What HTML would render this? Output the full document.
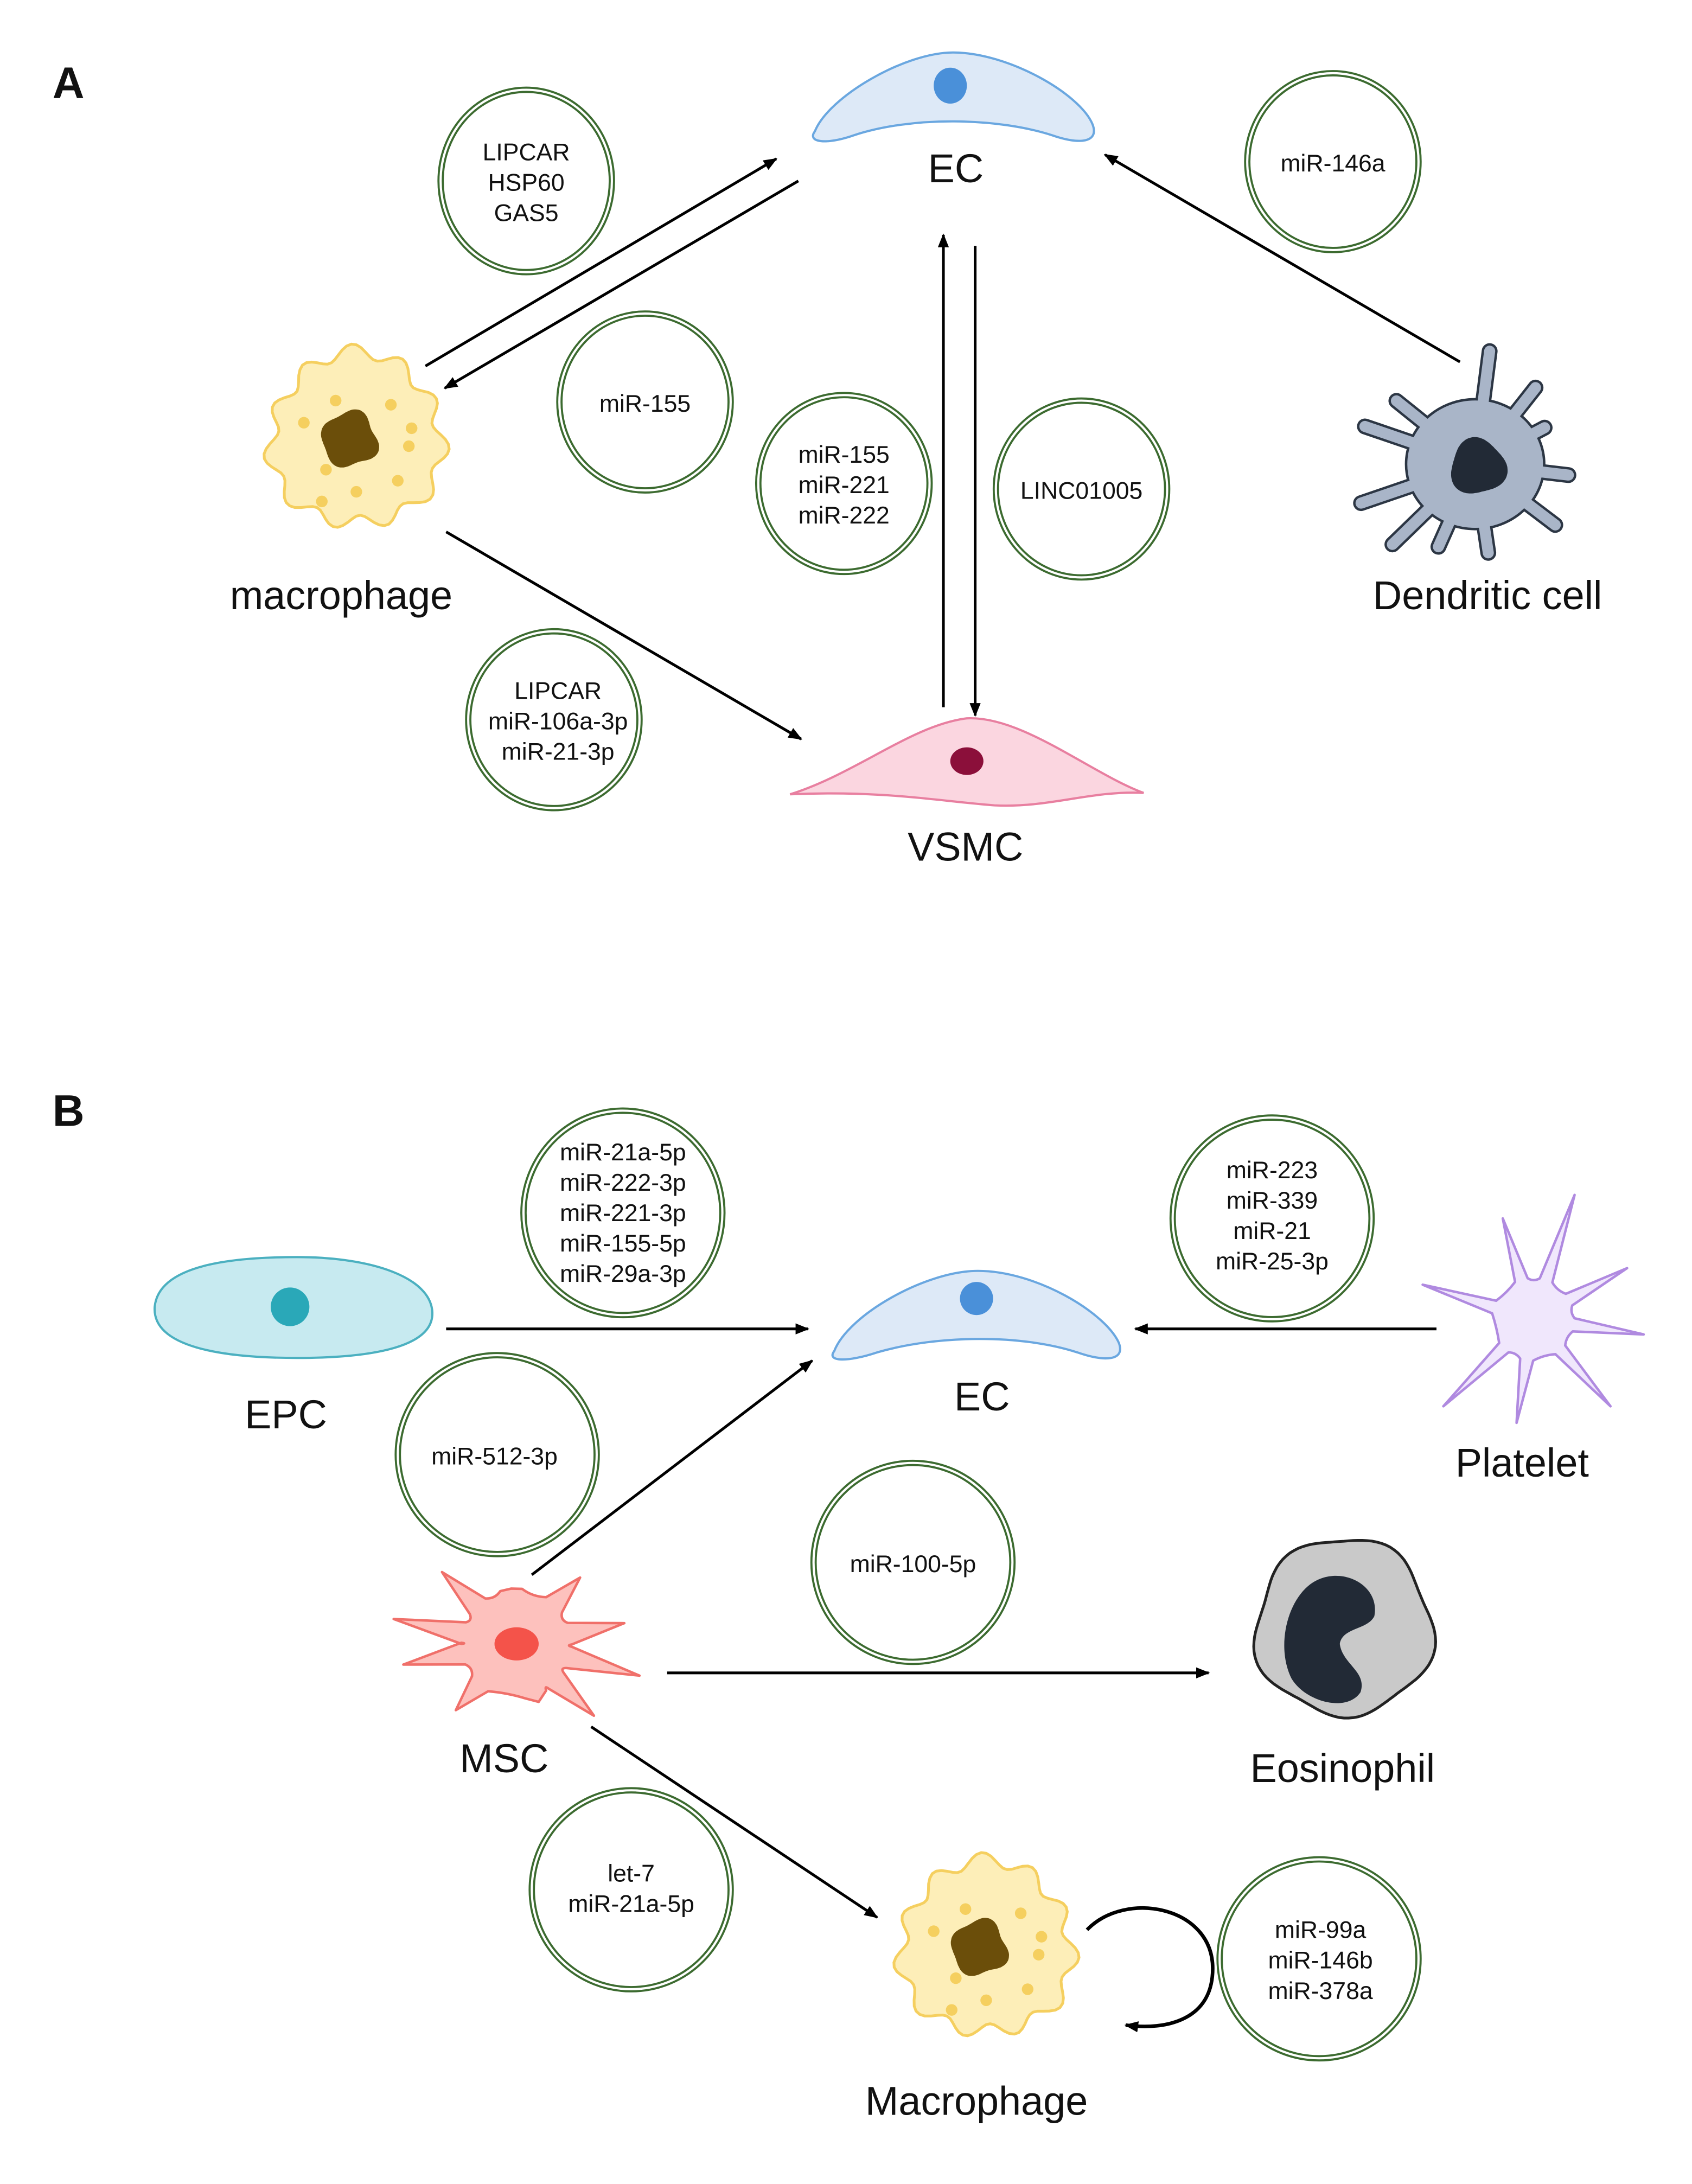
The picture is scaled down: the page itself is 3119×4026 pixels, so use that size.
<!DOCTYPE html>
<html><head><meta charset="utf-8"><style>
html,body{margin:0;padding:0;background:#fff;}
svg{display:block;}
text{font-family:"Liberation Sans",Arial,sans-serif;fill:#111;}
.s{font-size:17.5px;text-anchor:middle;}
.l{font-size:29px;text-anchor:middle;}
.h{font-size:32px;font-weight:bold;}
.ar{stroke:#000;stroke-width:2;fill:none;marker-end:url(#ah);}
</style></head><body>
<svg id="sv" width="3119" height="4026" viewBox="0 0 1225 1581" preserveAspectRatio="none" xmlns="http://www.w3.org/2000/svg">
<defs>
<marker id="ah" markerWidth="10" markerHeight="8" refX="9" refY="4" orient="auto" markerUnits="userSpaceOnUse"><path d="M0,0 L10,4 L0,8 Z" fill="#000"/></marker>
</defs>
<rect width="1225" height="1581" fill="#fff"/>
<text x="38" y="71" class="h">A</text>
<text x="38" y="815" class="h">B</text>

<g id="shapes"></g>

<line class="ar" x1="308" y1="265" x2="562" y2="115"/>
<line class="ar" x1="578" y1="131" x2="322" y2="281"/>
<line class="ar" x1="683" y1="512" x2="683" y2="170"/>
<line class="ar" x1="706" y1="178" x2="706" y2="518"/>
<line class="ar" x1="1057" y1="262" x2="800" y2="112"/>
<line class="ar" x1="323" y1="385" x2="580" y2="535"/>

<line class="ar" x1="323" y1="962" x2="585" y2="962"/>
<line class="ar" x1="1040" y1="962" x2="822" y2="962"/>
<line class="ar" x1="385" y1="1140" x2="588" y2="985"/>
<line class="ar" x1="483" y1="1211" x2="875" y2="1211"/>
<line class="ar" x1="428" y1="1250" x2="635" y2="1388"/>
<path class="ar" style="stroke-width:2.6" d="M787,1397 C815,1368 878,1380 878,1425 C878,1462 845,1470 815,1466"/>

<path d="M590,95 C600,70 655,38 690,38 C730,38 782,68 791,90 C796,103 782,105 762,98 C722,85 660,84 618,98 C598,105 584,103 590,95 Z" fill="#dde9f7" stroke="#6aa7e0" stroke-width="1.6"/>
<ellipse cx="688" cy="62" rx="12" ry="13" fill="#4a90d9"/>
<text x="692" y="132" class="l">EC</text>

<path d="M572,575 C620,560 660,525 700,520 C740,518 790,560 828,574 C790,572 760,585 720,583 C680,580 640,572 572,575 Z" fill="#fbd6e0" stroke="#e87fa0" stroke-width="1.6"/>
<ellipse cx="700" cy="551" rx="12" ry="10" fill="#8b0f3a"/>
<text x="699" y="623" class="l">VSMC</text>

<text x="247" y="441" class="l">macrophage</text>
<text x="1077" y="441" class="l">Dendritic cell</text>

<path d="M112,946 C115,915 170,910 215,910 C270,910 312,925 313,950 C314,975 270,983 215,983 C160,983 110,975 112,946 Z" fill="#c7eaf0" stroke="#4bb0c0" stroke-width="1.6"/>
<circle cx="210" cy="946" r="14" fill="#2aa8b8"/>
<text x="207" y="1034" class="l">EPC</text>

<path d="M604,978 C614,952 670,920 708,920 C750,920 800,950 810,972 C815,985 800,986 780,979 C740,966 680,966 635,979 C614,986 598,986 604,978 Z" fill="#dde9f7" stroke="#6aa7e0" stroke-width="1.6"/>
<ellipse cx="707" cy="940" rx="12" ry="12" fill="#4a90d9"/>
<text x="711" y="1021" class="l">EC</text>

<text x="1102" y="1069" class="l">Platelet</text>
<text x="365" y="1283" class="l">MSC</text>
<text x="972" y="1290" class="l">Eosinophil</text>
<text x="707" y="1531" class="l">Macrophage</text>

<g id="circles"></g>
<text class="s"><tspan x="381" y="116">LIPCAR</tspan><tspan x="381" y="138">HSP60</tspan><tspan x="381" y="160">GAS5</tspan></text>
<text class="s" x="965" y="124">miR-146a</text>
<text class="s" x="467" y="298">miR-155</text>
<text class="s"><tspan x="611" y="335">miR-155</tspan><tspan x="611" y="357">miR-221</tspan><tspan x="611" y="379">miR-222</tspan></text>
<text class="s" x="783" y="361">LINC01005</text>
<text class="s"><tspan x="404" y="506">LIPCAR</tspan><tspan x="404" y="528">miR-106a-3p</tspan><tspan x="404" y="550">miR-21-3p</tspan></text>
<text class="s"><tspan x="451" y="840">miR-21a-5p</tspan><tspan x="451" y="862">miR-222-3p</tspan><tspan x="451" y="884">miR-221-3p</tspan><tspan x="451" y="906">miR-155-5p</tspan><tspan x="451" y="928">miR-29a-3p</tspan></text>
<text class="s"><tspan x="921" y="853">miR-223</tspan><tspan x="921" y="875">miR-339</tspan><tspan x="921" y="897">miR-21</tspan><tspan x="921" y="919">miR-25-3p</tspan></text>
<text class="s" x="358" y="1060">miR-512-3p</text>
<text class="s" x="661" y="1138">miR-100-5p</text>
<text class="s"><tspan x="457" y="1362">let-7</tspan><tspan x="457" y="1384">miR-21a-5p</tspan></text>
<text class="s"><tspan x="956" y="1403">miR-99a</tspan><tspan x="956" y="1425">miR-146b</tspan><tspan x="956" y="1447">miR-378a</tspan></text>
</svg>
<script>
var NS="http://www.w3.org/2000/svg";
function el(p,t,a){var e=document.createElementNS(NS,t);for(var k in a)e.setAttribute(k,a[k]);p.appendChild(e);return e;}
var C=document.getElementById('circles'),S=document.getElementById('shapes');
[[381,131,62,66],[965,117,62,64],[467,291,62,64],[611,350,62,64],[783,354,62,64],[401,521,62,64],
 [451,878,72,74],[921,882,72,73],[360,1053,72,72],[661,1131,72,72],[457,1368,72,72],[955,1418,72,72]].forEach(function(c){
 el(C,'ellipse',{cx:c[0],cy:c[1],rx:c[2],ry:c[3],fill:'none',stroke:'#3c6b30','stroke-width':4.6});
 el(C,'ellipse',{cx:c[0],cy:c[1],rx:c[2],ry:c[3],fill:'none',stroke:'#fff','stroke-width':1.6});
});
function wavy(cx,cy,r,amp,n,ph){var d='';for(var i=0;i<=120;i++){var a=i/120*2*Math.PI;var rr=r+amp*Math.sin(n*a+ph)+amp*0.4*Math.sin(3*a);d+=(i?'L':'M')+(cx+rr*Math.cos(a)).toFixed(1)+','+(cy+rr*Math.sin(a)).toFixed(1);}return d+'Z';}
function sortTips(cx,cy,t){return t.sort(function(a,b){return Math.atan2(a[1]-cy,a[0]-cx)-Math.atan2(b[1]-cy,b[0]-cx);});}
function star(cx,cy,tips,rin,w){var d='';var n=tips.length;
 for(var i=0;i<n;i++){var t=tips[i];var a=Math.atan2(t[1]-cy,t[0]-cx);
  var p1=[cx+rin*Math.cos(a-w),cy+rin*Math.sin(a-w)],p2=[cx+rin*Math.cos(a+w),cy+rin*Math.sin(a+w)];
  d+=(i?'L':'M')+p1[0].toFixed(1)+','+p1[1].toFixed(1)+'L'+t[0]+','+t[1]+'L'+p2[0].toFixed(1)+','+p2[1].toFixed(1);
  var nt=tips[(i+1)%n];var an2=Math.atan2(nt[1]-cy,nt[0]-cx);if(an2<a)an2+=2*Math.PI;var am=(a+an2)/2;
  d+='Q'+(cx+rin*0.9*Math.cos(am)).toFixed(1)+','+(cy+rin*0.9*Math.sin(am)).toFixed(1)+' '+(cx+rin*Math.cos(an2-w)).toFixed(1)+','+(cy+rin*Math.sin(an2-w)).toFixed(1);}
 return d+'Z';}
function macro(cx,cy){
 el(S,'path',{d:wavy(cx,cy,62,5,11,0.5),fill:'#fdeeb8',stroke:'#f5cf5f','stroke-width':2});
 el(S,'path',{d:wavy(cx-5,cy,20,2,4,0),fill:'#6b4e0a'});
 [[-15,-28],[25,-25],[38,5],[-38,-12],[-22,22],[0,38],[30,30],[-25,45],[40,-8]].forEach(function(p){el(S,'circle',{cx:cx+p[0],cy:cy+p[1],r:4.2,fill:'#f5cf5f'});});
}
macro(258,318);macro(714,1410);
// dendritic
var dc=[1068,336];
var raw=[[1096,255],[1001,317],[1025,296],[1156,357],[1131,285],[1146,398],[1095,421],[1022,414],[998,380],[1057,416],[1138,318]];
var dt=raw.map(function(t){return [dc[0]+(t[0]-1085)*0.95,dc[1]+(t[1]-348)*0.88];});
function arms(col,w){dt.forEach(function(t){el(S,'line',{x1:dc[0],y1:dc[1],x2:t[0].toFixed(1),y2:t[1].toFixed(1),stroke:col,'stroke-width':w,'stroke-linecap':'round'});});}
arms('#2c3644',11.5);
el(S,'ellipse',{cx:dc[0],cy:dc[1],rx:50,ry:47,fill:'#a9b5c8',stroke:'#2c3644','stroke-width':1.8});
arms('#a9b5c8',8);
el(S,'ellipse',{cx:dc[0],cy:dc[1],rx:49,ry:46,fill:'#a9b5c8'});
el(S,'path',{d:wavy(1070,338,20,1.5,3,1),fill:'#222a36'});
// platelet
var pc=[1110,955];
var pt=sortTips(pc[0],pc[1],[[1140,865],[1030,930],[1045,1018],[1098,1030],[1166,1018],[1190,966],[1088,882],[1178,918]]);
el(S,'path',{d:star(pc[0],pc[1],pt,30,0.16),fill:'#f0e7fc',stroke:'#b08ae0','stroke-width':1.8,'stroke-linejoin':'round'});
// MSC
var mc=[374,1190];
var mt=sortTips(mc[0],mc[1],[[285,1172],[292,1205],[330,1238],[390,1232],[430,1242],[463,1213],[452,1175],[420,1142],[370,1150],[320,1138]]);
el(S,'path',{d:star(mc[0],mc[1],mt,40,0.2),fill:'#fdc1bd',stroke:'#f0706a','stroke-width':1.8,'stroke-linejoin':'round'});
el(S,'ellipse',{cx:374,cy:1190,rx:16,ry:12,fill:'#f4534a'});
// eosinophil
el(S,'path',{d:wavy(973,1178,64,3,5,0.3),fill:'#c9c9c9',stroke:'#222','stroke-width':2});
el(S,'path',{d:'M945,1150 C965,1130 1000,1145 995,1170 C990,1180 972,1178 970,1190 C972,1205 990,1210 985,1225 C975,1240 945,1232 935,1215 C925,1195 930,1165 945,1150 Z',fill:'#222a36'});
</script>
</body></html>
